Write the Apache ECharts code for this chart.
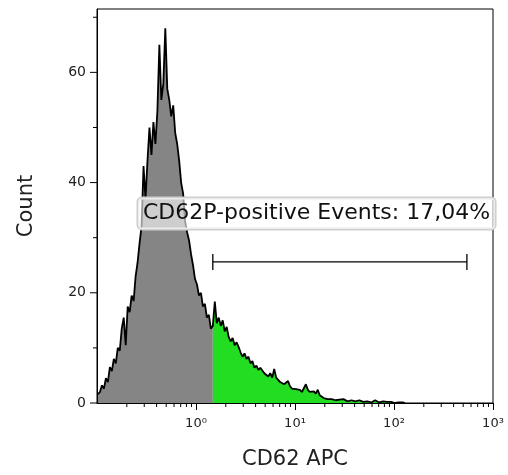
<!DOCTYPE html>
<html>
<head>
<meta charset="utf-8">
<script src="https://cdn.jsdelivr.net/npm/echarts@6/dist/echarts.min.js"></script>
<style>
html,body{margin:0;padding:0;background:#fff;}
#chart{width:508px;height:475px;}
</style>
</head>
<body>
<div id="chart"></div>
<script>
// Histogram bins: evenly spaced on a log10 scale
const binLogStart = -0.99;
const binLogStep = 0.02;
const counts = [1.6, 2.0, 3.2, 2.6, 4.5, 3.8, 6.5, 5.8, 8.0, 7.2,
  10.0, 9.5, 13.5, 15.5, 10.5, 17.5, 16.5, 19.5, 18.5, 23,
  25.5, 29, 32, 43, 37, 44, 50, 45, 51, 47,
  53, 65, 55, 58, 68, 57, 55, 52, 54, 49,
  47, 44, 40, 38, 33, 31, 29.5, 27, 25, 22.5,
  21.5, 19.5, 20, 17.5, 18, 15.5, 16, 13.5, 14, 18.4,
  14.5, 15.5, 14, 15, 13, 13.8, 12, 11.2, 11.8, 10.5,
  11, 10.2, 9.2, 8.4, 9, 8, 8.4, 7.2, 7.6, 6.4,
  6.8, 6, 6.4, 6.2, 5.4, 5.6, 4.8, 5.4, 4.6, 6.2,
  4.6, 4.2, 3.8, 4, 3.4, 3.2, 4, 3, 2.6, 2.3,
  2.5, 2.2, 2.4, 2, 2.2, 3.4, 2.4, 2, 1.9, 2.1,
  1.7, 2.4, 1.4, 1.1, 0.9, 0.8, 0.7, 0.6, 0.7, 0.5,
  0.5, 0.4, 0.6, 0.3, 0.7, 0.4, 0.3, 0.3, 0.5, 0.2,
  0.3, 0.2, 0.5, 0.3, 0.2, 0.1, 0.3, 0.2, 0.1, 0.3,
  0.5, 0.3, 0.1, 0.2, 0.3, 0.1, 0.2, 0.1, 0.2, 0.1,
  0, 0.2, 0.1, 0, 0.1, 0];
const gateFrom = 1.479;
const gateTo = 545;
const gateY = 25.6;
const gateText = 'CD62P-positive Events: 17,04%';
const gateLabelPos = [0.2594, 34.4];
const xTickLabels = {'0': '10\u2070', '1': '10\u00B9', '2': '10\u00B2', '3': '10\u00B3'};
const minorTicksX = [0.2,0.3,0.4,0.5,0.6,0.7,0.8,0.9, 2,3,4,5,6,7,8,9, 20,30,40,50,60,70,80,90, 200,300,400,500,600,700,800,900];
const majorTicksY = [0, 20, 40, 60];
const minorTicksY = [10, 30, 50, 70];

const points = counts.map((c, i) => [Math.pow(10, binLogStart + i * binLogStep), c]);
const grayPts = points.filter(p => p[0] <= gateFrom * 1.001);
const greenPts = points.filter(p => p[0] >= gateFrom * 0.999);

const FONT = '"DejaVu Sans", Verdana, sans-serif';
const chart = echarts.init(document.getElementById('chart'));

function yTickSeries(values, len) {
  return {type: 'custom', data: values.map(v => [0.1, v]), clip: false, z: 5,
    renderItem: (params, api) => {
      const p = api.coord([api.value(0), api.value(1)]);
      return {type: 'line', shape: {x1: p[0] - len, y1: p[1], x2: p[0], y2: p[1]}, style: {stroke: '#000', lineWidth: 1}};
    }};
}

chart.setOption({
  animation: false,
  grid: {left: 97, right: 15, top: 9, bottom: 71, show: true, borderColor: '#000', borderWidth: 1, backgroundColor: 'transparent'},
  xAxis: {
    type: 'log', logBase: 10, min: 0.1, max: 1000,
    name: 'CD62 APC', nameLocation: 'middle', nameGap: 46,
    nameTextStyle: {fontFamily: FONT, fontSize: 21, color: '#222'},
    axisLine: {lineStyle: {color: '#000', width: 1}},
    axisTick: {length: 7, lineStyle: {color: '#000'}},
    splitLine: {show: false},
    axisLabel: {
      showMinLabel: false, margin: 14, fontFamily: FONT, fontSize: 13, color: '#222',
      formatter: v => { const e = Math.round(Math.log10(v)); return xTickLabels[String(e)] || ''; }
    }
  },
  yAxis: {
    type: 'value', min: 0, max: 71.5, interval: 20, position: 'left',
    name: 'Count', nameLocation: 'middle', nameGap: 60,
    nameTextStyle: {fontFamily: FONT, fontSize: 21, color: '#222'},
    axisLine: {show: true, lineStyle: {color: '#000'}},
    axisTick: {show: false},
    splitLine: {show: false},
    axisLabel: {margin: 11, fontFamily: FONT, fontSize: 14, color: '#222', showMaxLabel: false,
      formatter: v => (v % 20 === 0 ? String(v) : '')}
  },
  series: [
    {type: 'line', data: grayPts, showSymbol: false, lineStyle: {width: 0}, areaStyle: {color: '#858585', opacity: 1}, z: 2},
    {type: 'line', data: greenPts, showSymbol: false, lineStyle: {width: 0}, areaStyle: {color: '#22dd22', opacity: 1}, z: 2},
    {type: 'line', data: points, showSymbol: false, lineStyle: {color: '#000', width: 1.8}, z: 3},
    {type: 'custom', data: [[gateFrom, gateTo, gateY]], z: 4,
      renderItem: (params, api) => {
        const a = api.coord([api.value(0), api.value(2)]);
        const b = api.coord([api.value(1), api.value(2)]);
        const st = {stroke: '#000', lineWidth: 1.3};
        return {type: 'group', children: [
          {type: 'line', shape: {x1: a[0], y1: a[1], x2: b[0], y2: b[1]}, style: st},
          {type: 'line', shape: {x1: a[0], y1: a[1] - 8, x2: a[0], y2: a[1] + 8}, style: st},
          {type: 'line', shape: {x1: b[0], y1: b[1] - 8, x2: b[0], y2: b[1] + 8}, style: st}
        ]};
      }},
    {type: 'custom', data: minorTicksX.map(v => [v, 0]), clip: false, z: 5,
      renderItem: (params, api) => {
        const p = api.coord([api.value(0), 0]);
        return {type: 'line', shape: {x1: p[0], y1: p[1], x2: p[0], y2: p[1] + 4}, style: {stroke: '#000', lineWidth: 1}};
      }},
    yTickSeries(majorTicksY, 7),
    yTickSeries(minorTicksY, 4),
    {type: 'custom', data: [gateLabelPos], z: 10,
      renderItem: (params, api) => {
        const p = api.coord([api.value(0), api.value(1)]);
        return {type: 'text', x: p[0], y: p[1], style: {
          text: gateText, fontFamily: FONT, fontSize: 22, fill: '#111', align: 'left', verticalAlign: 'middle',
          backgroundColor: 'rgba(255,255,255,0.6)', borderColor: '#cfcfcf', borderWidth: 1.5, borderRadius: 4,
          padding: [5, 5, 4, 5]
        }};
      }}
  ]
});
</script>
</body>
</html>
